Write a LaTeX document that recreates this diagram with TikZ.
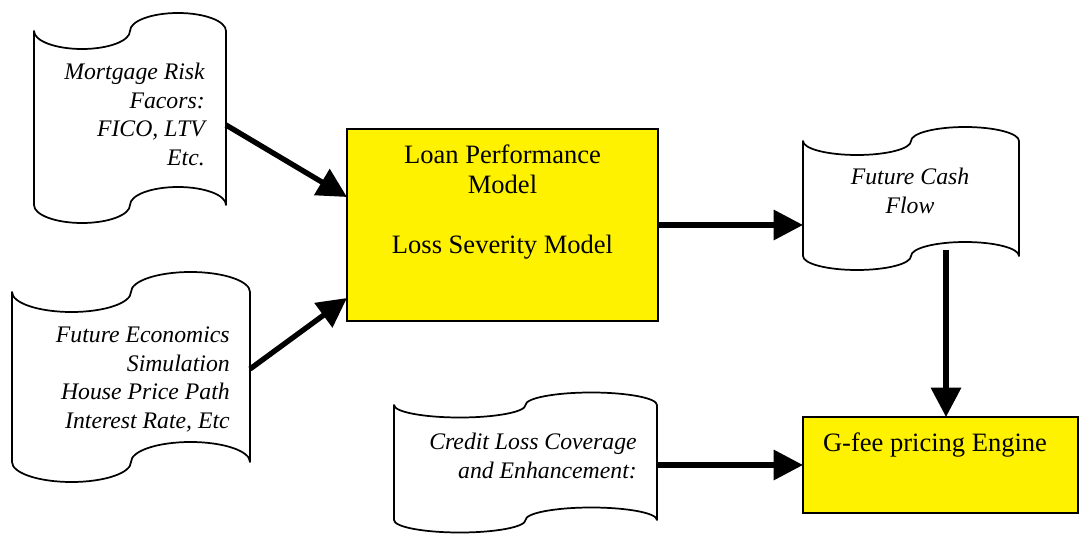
\documentclass[tikz,border=0pt]{standalone}
\usepackage{fontspec}
\setmainfont{Liberation Serif}
\usetikzlibrary{arrows.meta,calc}
\tikzset{
  tapebox/.style={rectangle, draw=none, inner sep=0pt, outer sep=0pt},
  tapeline/.style={draw=black, line width=1.3pt, fill=white, line join=round},
  ybox/.style={rectangle, draw=black, line width=1.4pt, fill=yellow, inner sep=0pt, outer sep=0pt},
  itext/.style={inner sep=0pt, font=\fontsize{17.8pt}{21.4pt}\selectfont\itshape},
  rtext/.style={inner sep=0pt, font=\fontsize{19.9pt}{22.5pt}\selectfont},
  arr/.style={line width=4pt, -{Triangle[length=22pt,width=22pt]}},
}
% name, L, R, T, B, A  (pixel units, y downwards)
\newcommand\tapeshape[6]{%
  \pgfmathsetmacro\tpW{#3-#2}%
  \pgfmathsetmacro\tpH{#5-#4}%
  \pgfmathsetmacro\tpCx{(#2+#3)/2}%
  \pgfmathsetmacro\tpCy{(#4+#5)/2}%
  \pgfmathsetmacro\tpQa{#2+\tpW/4}%
  \pgfmathsetmacro\tpQb{#2+3*\tpW/4}%
  \pgfmathsetmacro\tpK{0.5523*\tpW/4}%
  \pgfmathsetmacro\tpKA{0.5523*#6}%
  \node[tapebox, minimum width=\tpW*0.75pt, minimum height=\tpH*0.75pt] (#1) at (\tpCx,\tpCy) {};
  \path[tapeline] (#2,#4)
    .. controls (#2,#4+\tpKA) and (\tpQa-\tpK,#4+#6) .. (\tpQa,#4+#6)
    .. controls (\tpQa+\tpK,#4+#6) and (\tpCx,#4+\tpKA) .. (\tpCx,#4)
    .. controls (\tpCx,#4-\tpKA) and (\tpQb-\tpK,#4-#6) .. (\tpQb,#4-#6)
    .. controls (\tpQb+\tpK,#4-#6) and (#3,#4-\tpKA) .. (#3,#4)
    -- (#3,#5)
    .. controls (#3,#5-\tpKA) and (\tpQb+\tpK,#5-#6) .. (\tpQb,#5-#6)
    .. controls (\tpQb-\tpK,#5-#6) and (\tpCx,#5-\tpKA) .. (\tpCx,#5)
    .. controls (\tpCx,#5+\tpKA) and (\tpQa+\tpK,#5+#6) .. (\tpQa,#5+#6)
    .. controls (\tpQa-\tpK,#5+#6) and (#2,#5+\tpKA) .. (#2,#5)
    -- cycle;
}
\begin{document}
\begin{tikzpicture}[x=0.75pt, y=-0.75pt]
\useasboundingbox (0,0) rectangle (1080,534);

% tapes
\tapeshape{risk}{34}{226}{31}{205}{18}
\tapeshape{econ}{12}{250}{292}{462}{20}
\tapeshape{credit}{394}{657}{405}{520}{12.5}
\tapeshape{cash}{803}{1019}{141}{256}{14}

% yellow boxes
\node[ybox, minimum width=233.25pt, minimum height=144pt] (lpm) at (502.5,225) {};
\node[ybox, minimum width=206.25pt, minimum height=72pt] (gfee) at (940.5,465) {};

% texts
\node[itext, align=right, anchor=east] (risktxt) at ($(risk.east)+(-21,-3.5)$)
  {Mortgage Risk\\Facors:\\FICO, LTV\\Etc.};
\node[itext, align=right, anchor=east] (econtxt) at ($(econ.east)+(-20,2.5)$)
  {Future Economics\\Simulation\\House Price Path\\Interest Rate, Etc};
\node[itext, align=right, anchor=east] (credittxt) at ($(credit.east)+(-20,-6.5)$)
  {Credit Loss Coverage\\and Enhancement:};
\node[itext, align=center] (cashtxt) at ($(cash.center)+(-1,-7.5)$)
  {Future Cash\\Flow};
\node[rtext, align=center] (lpmtxt) at ($(lpm.center)+(0,-22.5)$)
  {Loan Performance\\Model\\[22.5pt]Loss Severity Model};
\node[rtext] (gfeetxt) at ($(gfee.center)+(-5.5,-20)$) {G-fee pricing Engine};

% arrows
\draw[arr] ($(risk.east)+(0,7)$) -- ($(lpm.west)+(0,-28)$);
\draw[arr] ($(econ.east)+(0,-8)$) -- ($(lpm.west)+(0,73)$);
\draw[arr] (lpm.east) -- (lpm.east -| cash.west);
\coordinate (cfstart) at ($(cash.south)+(35,-6)$);
\draw[arr] (cfstart) -- (cfstart |- gfee.north);
\draw[arr] (gfee.west -| credit.east) -- (gfee.west);
\end{tikzpicture}
\end{document}
